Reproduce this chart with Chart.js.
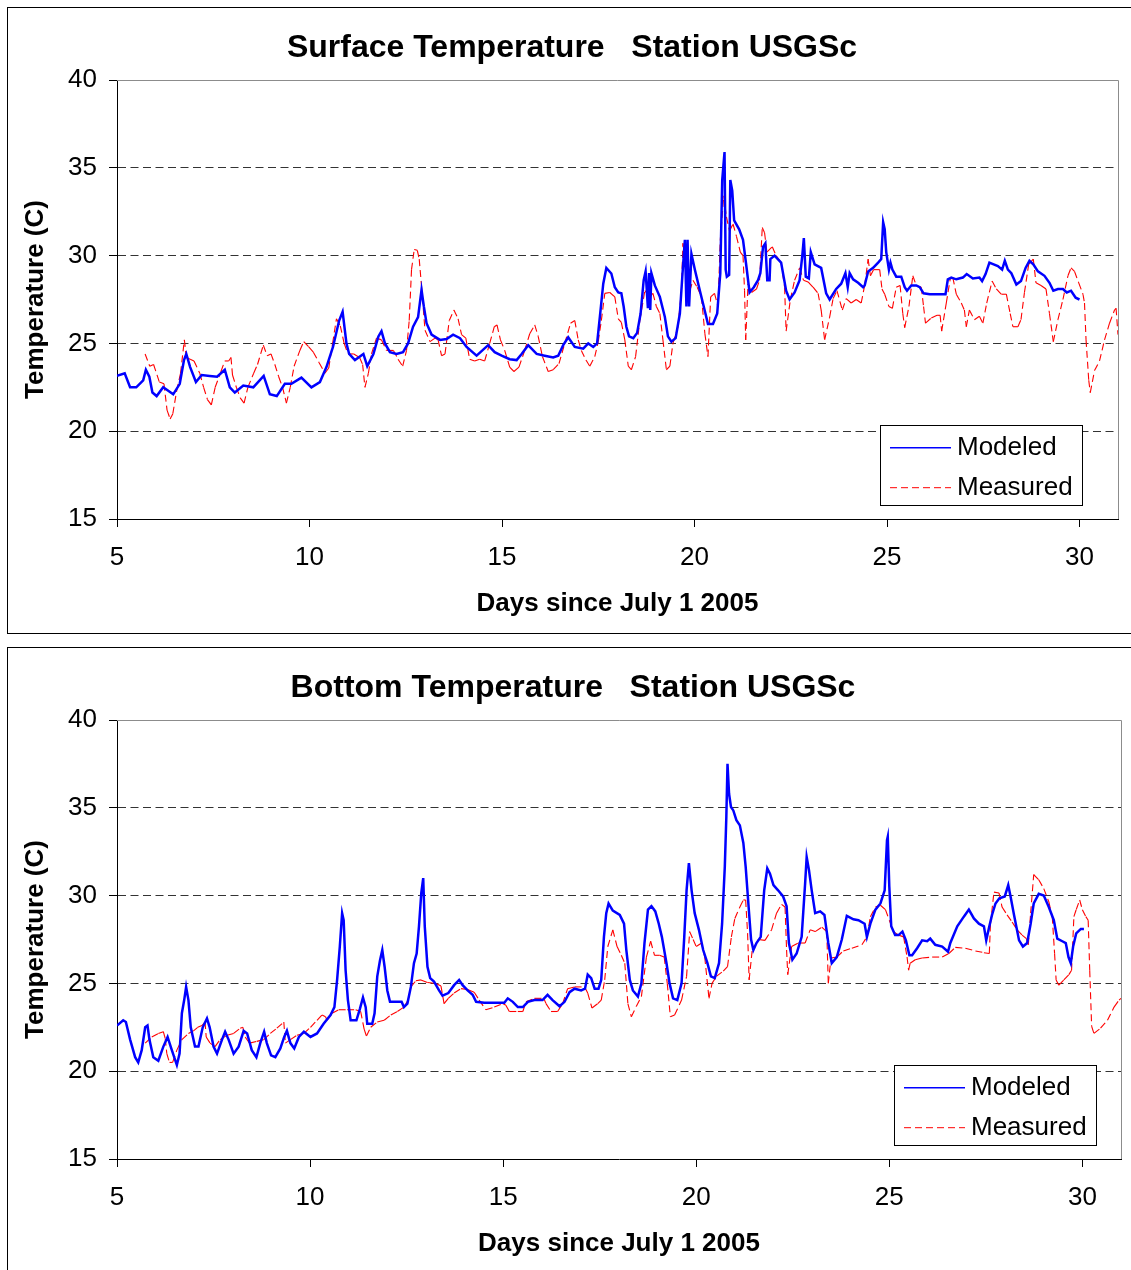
<!DOCTYPE html>
<html>
<head>
<meta charset="utf-8">
<title>Temperature - Station USGSc</title>
<script src="https://cdn.jsdelivr.net/npm/chart.js@4.4.1/dist/chart.umd.min.js"></script>
<style>
  html, body { margin: 0; padding: 0; background: #fff; overflow: hidden; }
  .panel { position: absolute; left: 7px; width: 1200px; border: 1px solid #000; box-sizing: border-box; background: #fff; }
  .panel canvas { position: absolute; left: 0; top: 0; }
</style>
</head>
<body>
<div class="panel" style="top:7px; height:627px;"><canvas id="surfaceChart" width="1123" height="625"></canvas></div>
<div class="panel" style="top:647px; height:700px;"><canvas id="bottomChart" width="1123" height="625"></canvas></div>
<script>
// days since July 1 2005 / temperature (C)
const surfaceModeledDay = [5.0, 5.2, 5.34, 5.5, 5.68, 5.75, 5.84, 5.92, 6.03, 6.2, 6.46, 6.63, 6.74, 6.8, 6.9, 7.05, 7.2, 7.41, 7.6, 7.8, 7.93, 8.06, 8.28, 8.54, 8.81, 8.97, 9.15, 9.36, 9.53, 9.79, 10.05, 10.27, 10.44, 10.61, 10.77, 10.86, 10.96, 11.03, 11.18, 11.4, 11.5, 11.66, 11.79, 11.87, 11.96, 12.09, 12.26, 12.43, 12.56, 12.69, 12.82, 12.91, 12.97, 13.04, 13.17, 13.39, 13.56, 13.73, 13.91, 14.08, 14.34, 14.64, 14.81, 14.99, 15.2, 15.38, 15.51, 15.68, 15.9, 16.11, 16.33, 16.46, 16.59, 16.72, 16.89, 17.11, 17.24, 17.37, 17.47, 17.56, 17.63, 17.71, 17.84, 17.93, 18.02, 18.1, 18.16, 18.23, 18.3, 18.41, 18.51, 18.6, 18.68, 18.73, 18.79, 18.82, 18.85, 18.88, 18.97, 19.1, 19.23, 19.31, 19.4, 19.51, 19.62, 19.7, 19.75, 19.79, 19.82, 19.86, 19.92, 20.01, 20.14, 20.24, 20.35, 20.48, 20.59, 20.67, 20.72, 20.78, 20.81, 20.84, 20.9, 20.93, 20.98, 21.03, 21.16, 21.26, 21.35, 21.43, 21.54, 21.65, 21.71, 21.78, 21.84, 21.89, 21.95, 21.97, 22.08, 22.25, 22.38, 22.47, 22.6, 22.73, 22.8, 22.84, 22.89, 22.97, 23.02, 23.12, 23.29, 23.42, 23.51, 23.68, 23.81, 23.92, 23.98, 24.03, 24.12, 24.25, 24.38, 24.42, 24.51, 24.64, 24.77, 24.85, 24.9, 24.94, 24.98, 25.05, 25.09, 25.14, 25.24, 25.37, 25.46, 25.52, 25.63, 25.76, 25.85, 25.95, 26.11, 26.28, 26.52, 26.58, 26.67, 26.8, 26.97, 27.07, 27.23, 27.4, 27.47, 27.56, 27.66, 27.77, 27.88, 27.99, 28.06, 28.14, 28.23, 28.36, 28.48, 28.6, 28.7, 28.8, 28.92, 29.09, 29.22, 29.32, 29.44, 29.57, 29.67, 29.78, 29.9, 30.0];
const surfaceModeledTemp = [23.15, 23.3, 22.5, 22.5, 22.9, 23.5, 23.1, 22.2, 22.0, 22.5, 22.1, 22.7, 24.05, 24.4, 23.65, 22.8, 23.2, 23.15, 23.1, 23.5, 22.5, 22.2, 22.6, 22.5, 23.15, 22.1, 22.0, 22.7, 22.7, 23.05, 22.5, 22.8, 23.65, 24.8, 26.3, 26.8, 25.0, 24.4, 24.05, 24.4, 23.7, 24.4, 25.4, 25.7, 25.0, 24.5, 24.4, 24.5, 25.0, 25.95, 26.5, 28.05, 27.1, 26.15, 25.5, 25.2, 25.25, 25.5, 25.3, 24.8, 24.3, 24.9, 24.5, 24.3, 24.1, 24.05, 24.4, 24.9, 24.4, 24.3, 24.2, 24.3, 24.9, 25.35, 24.8, 24.7, 25.0, 24.8, 25.0, 26.9, 28.4, 29.3, 28.98, 28.2, 27.9, 27.85, 27.1, 25.95, 25.4, 25.3, 25.6, 26.7, 28.6, 29.1, 27.0, 29.0, 26.9, 29.0, 28.3, 27.65, 26.5, 25.4, 25.1, 25.3, 26.7, 29.35, 30.9, 27.1, 30.9, 27.1, 30.1, 29.2, 28.0, 27.1, 26.1, 26.1, 26.7, 29.0, 34.3, 35.9, 29.2, 28.8, 28.9, 34.3, 33.7, 32.0, 31.5, 30.9, 29.35, 27.9, 28.2, 28.6, 29.0, 30.5, 30.7, 28.6, 28.6, 29.8, 30.0, 29.6, 28.0, 27.5, 27.9, 28.6, 30.0, 31.0, 28.8, 28.7, 30.2, 29.5, 29.3, 27.85, 27.5, 28.1, 28.4, 29.0, 28.2, 29.0, 28.65, 28.45, 28.2, 28.3, 29.1, 29.3, 29.6, 29.8, 31.9, 31.5, 30.2, 29.2, 29.6, 29.2, 28.8, 28.8, 28.2, 28.0, 28.3, 28.3, 28.2, 27.85, 27.8, 27.8, 27.8, 28.65, 28.75, 28.65, 28.75, 28.95, 28.7, 28.75, 28.55, 28.95, 29.6, 29.5, 29.4, 29.2, 29.7, 29.2, 29.0, 28.35, 28.55, 29.3, 29.7, 29.5, 29.1, 28.85, 28.45, 28.0, 28.1, 28.1, 27.9, 28.0, 27.6, 27.5];

const surfaceMeasuredDay = [5.73, 5.85, 5.95, 6.1, 6.22, 6.3, 6.38, 6.45, 6.55, 6.65, 6.75, 6.8, 6.9, 7.0, 7.15, 7.25, 7.35, 7.45, 7.55, 7.7, 7.8, 7.9, 7.96, 8.0, 8.1, 8.2, 8.3, 8.4, 8.55, 8.65, 8.8, 8.9, 9.0, 9.1, 9.2, 9.3, 9.4, 9.5, 9.6, 9.75, 9.85, 9.98, 10.1, 10.25, 10.4, 10.5, 10.6, 10.7, 10.8, 10.9, 11.0, 11.15, 11.3, 11.38, 11.44, 11.53, 11.61, 11.74, 11.87, 12.0, 12.18, 12.3, 12.42, 12.52, 12.59, 12.65, 12.72, 12.8, 12.85, 12.91, 13.0, 13.13, 13.26, 13.34, 13.43, 13.52, 13.63, 13.75, 13.86, 13.95, 14.06, 14.16, 14.29, 14.42, 14.55, 14.68, 14.8, 14.87, 14.96, 15.07, 15.2, 15.31, 15.44, 15.59, 15.72, 15.85, 15.94, 16.05, 16.2, 16.33, 16.48, 16.63, 16.78, 16.89, 16.98, 17.06, 17.18, 17.28, 17.41, 17.5, 17.58, 17.67, 17.8, 17.93, 18.02, 18.1, 18.19, 18.28, 18.36, 18.47, 18.58, 18.71, 18.84, 18.92, 19.01, 19.1, 19.18, 19.27, 19.36, 19.44, 19.57, 19.66, 19.7, 19.77, 19.88, 19.96, 20.07, 20.18, 20.27, 20.35, 20.42, 20.52, 20.61, 20.67, 20.76, 20.83, 20.91, 21.0, 21.09, 21.19, 21.26, 21.3, 21.33, 21.39, 21.48, 21.61, 21.69, 21.76, 21.82, 21.88, 22.02, 22.12, 22.25, 22.34, 22.38, 22.49, 22.6, 22.73, 22.83, 22.95, 23.08, 23.21, 23.29, 23.38, 23.51, 23.6, 23.7, 23.84, 23.94, 24.07, 24.2, 24.33, 24.42, 24.51, 24.57, 24.65, 24.81, 24.87, 24.94, 25.05, 25.14, 25.24, 25.34, 25.41, 25.46, 25.57, 25.67, 25.76, 25.89, 25.95, 26.0, 26.15, 26.3, 26.38, 26.42, 26.54, 26.64, 26.71, 26.8, 26.93, 27.01, 27.06, 27.14, 27.27, 27.4, 27.49, 27.59, 27.73, 27.84, 27.97, 28.1, 28.2, 28.27, 28.4, 28.48, 28.57, 28.68, 28.8, 28.87, 29.0, 29.13, 29.22, 29.32, 29.44, 29.57, 29.7, 29.78, 29.87, 29.98, 30.09, 30.13, 30.17, 30.24, 30.28, 30.39, 30.52, 30.65, 30.78, 30.91, 30.95, 31.0];
const surfaceMeasuredTemp = [24.4, 23.7, 23.8, 22.8, 22.7, 21.2, 20.7, 21.0, 22.3, 23.3, 25.2, 24.2, 24.1, 24.0, 23.3, 22.5, 21.8, 21.5, 22.5, 23.4, 24.0, 24.0, 24.2, 23.2, 22.5, 21.9, 21.6, 22.5, 23.3, 23.8, 24.9, 24.3, 24.4, 23.8, 23.1, 22.5, 21.6, 22.5, 23.7, 24.6, 25.1, 24.8, 24.5, 23.9, 23.3, 23.6, 25.0, 26.4, 26.0, 25.0, 24.4, 24.4, 24.2, 23.8, 22.5, 23.3, 24.4, 25.3, 25.2, 24.6, 24.6, 24.1, 23.7, 24.6, 26.3, 29.2, 30.35, 30.3, 29.8, 28.25, 25.75, 25.1, 25.3, 25.2, 24.3, 24.4, 26.3, 26.9, 26.4, 25.5, 25.3, 24.1, 24.0, 24.1, 24.0, 25.0, 25.95, 26.05, 25.2, 24.6, 23.65, 23.4, 23.65, 24.6, 25.55, 26.05, 25.4, 24.25, 23.4, 23.5, 23.85, 25.0, 26.15, 26.3, 25.2, 24.6, 24.05, 23.7, 24.25, 25.1, 26.3, 27.85, 27.9, 27.65, 26.4, 26.2, 25.2, 23.7, 23.5, 24.25, 26.3, 28.0, 27.65, 27.85, 27.1, 26.7, 25.2, 23.5, 23.7, 25.0, 25.95, 28.0, 30.7, 29.4, 28.0, 28.6, 28.2, 27.65, 25.55, 24.25, 27.65, 27.85, 27.1, 30.9, 33.4, 32.2, 31.4, 31.8, 31.1, 30.2, 30.0, 28.0, 25.2, 28.4, 27.9, 28.1, 28.6, 31.6, 31.3, 30.2, 30.5, 30.0, 29.6, 28.2, 25.7, 27.5, 28.6, 29.3, 28.6, 28.5, 28.2, 27.85, 26.9, 25.2, 26.5, 27.55, 28.0, 26.9, 27.55, 27.3, 27.5, 27.3, 28.3, 29.8, 28.85, 29.2, 29.2, 28.1, 27.8, 27.1, 27.0, 28.2, 28.3, 26.7, 25.9, 27.1, 28.85, 28.3, 28.2, 27.1, 26.15, 26.45, 26.6, 26.6, 25.7, 27.3, 28.65, 28.75, 27.8, 27.3, 26.9, 25.95, 26.9, 26.35, 26.55, 26.15, 27.3, 28.55, 28.1, 27.8, 27.8, 26.7, 25.95, 25.95, 26.35, 27.9, 29.5, 29.8, 28.45, 28.3, 28.1, 26.7, 25.1, 26.35, 27.5, 28.85, 29.3, 29.1, 28.45, 27.8, 27.3, 25.2, 22.9, 22.2, 23.45, 24.0, 25.2, 26.15, 26.9, 27.0, 25.5];

const bottomModeledDay = [5.0, 5.16, 5.23, 5.34, 5.47, 5.55, 5.64, 5.73, 5.79, 5.84, 5.94, 6.07, 6.2, 6.31, 6.42, 6.55, 6.62, 6.68, 6.74, 6.79, 6.85, 6.91, 7.02, 7.11, 7.22, 7.33, 7.4, 7.5, 7.59, 7.72, 7.8, 7.89, 8.02, 8.15, 8.28, 8.37, 8.49, 8.61, 8.71, 8.81, 8.88, 8.99, 9.1, 9.23, 9.33, 9.4, 9.49, 9.59, 9.71, 9.84, 10.01, 10.18, 10.35, 10.53, 10.63, 10.7, 10.77, 10.83, 10.87, 10.92, 10.98, 11.05, 11.2, 11.29, 11.37, 11.44, 11.48, 11.61, 11.67, 11.74, 11.81, 11.87, 11.93, 12.0, 12.07, 12.26, 12.37, 12.43, 12.52, 12.61, 12.69, 12.76, 12.82, 12.88, 12.93, 12.97, 13.04, 13.11, 13.21, 13.34, 13.43, 13.58, 13.73, 13.86, 13.95, 14.08, 14.21, 14.3, 14.51, 14.77, 15.03, 15.12, 15.25, 15.38, 15.51, 15.64, 15.81, 16.02, 16.15, 16.28, 16.46, 16.59, 16.72, 16.85, 17.02, 17.12, 17.19, 17.28, 17.37, 17.47, 17.54, 17.61, 17.67, 17.73, 17.84, 18.02, 18.13, 18.19, 18.28, 18.36, 18.49, 18.58, 18.66, 18.75, 18.84, 18.94, 19.03, 19.11, 19.23, 19.31, 19.4, 19.51, 19.62, 19.69, 19.75, 19.81, 19.88, 19.96, 20.07, 20.18, 20.29, 20.38, 20.48, 20.59, 20.67, 20.74, 20.78, 20.81, 20.85, 20.9, 20.96, 21.04, 21.13, 21.22, 21.28, 21.35, 21.42, 21.48, 21.56, 21.67, 21.76, 21.84, 21.91, 22.0, 22.12, 22.25, 22.34, 22.4, 22.49, 22.6, 22.73, 22.82, 22.86, 22.92, 22.99, 23.08, 23.21, 23.32, 23.42, 23.51, 23.64, 23.77, 23.9, 24.07, 24.2, 24.36, 24.42, 24.51, 24.64, 24.77, 24.88, 24.94, 24.96, 25.0, 25.05, 25.15, 25.24, 25.34, 25.43, 25.52, 25.59, 25.72, 25.85, 25.98, 26.06, 26.19, 26.37, 26.52, 26.58, 26.76, 26.93, 27.06, 27.19, 27.32, 27.45, 27.51, 27.58, 27.66, 27.75, 27.85, 27.99, 28.08, 28.14, 28.23, 28.36, 28.46, 28.57, 28.66, 28.74, 28.87, 29.0, 29.13, 29.26, 29.35, 29.48, 29.57, 29.64, 29.7, 29.76, 29.84, 29.96, 30.04];
const bottomModeledTemp = [22.6, 22.9, 22.8, 21.8, 20.8, 20.5, 21.2, 22.5, 22.6, 21.8, 20.8, 20.6, 21.4, 21.95, 21.2, 20.35, 21.0, 23.3, 24.05, 24.8, 24.05, 22.5, 21.4, 21.4, 22.5, 23.0, 22.5, 21.4, 21.0, 21.8, 22.25, 21.8, 21.0, 21.4, 22.3, 22.15, 21.2, 20.8, 21.6, 22.25, 21.6, 20.9, 20.8, 21.3, 21.95, 22.3, 21.6, 21.3, 21.95, 22.25, 21.95, 22.15, 22.7, 23.2, 23.65, 25.2, 27.1, 29.0, 28.6, 25.75, 24.05, 22.9, 22.9, 23.55, 24.2, 23.65, 22.7, 22.7, 23.3, 25.4, 26.3, 26.9, 25.95, 24.6, 23.95, 23.95, 23.95, 23.65, 23.85, 24.8, 26.15, 26.7, 28.25, 30.15, 31.0, 28.25, 25.95, 25.3, 25.1, 24.6, 24.3, 24.45, 24.9, 25.2, 24.9, 24.6, 24.35, 23.95, 23.9, 23.9, 23.9, 24.15, 23.95, 23.65, 23.65, 23.95, 24.05, 24.05, 24.35, 24.05, 23.7, 23.95, 24.5, 24.7, 24.6, 24.7, 25.5, 25.3, 24.7, 24.7, 25.2, 27.65, 29.0, 29.55, 29.15, 28.9, 28.4, 26.9, 25.2, 24.6, 24.25, 25.0, 27.3, 29.2, 29.4, 29.1, 28.4, 27.65, 26.15, 25.0, 24.15, 24.05, 25.0, 27.65, 30.3, 31.85, 30.3, 29.0, 28.05, 26.9, 26.15, 25.4, 25.3, 26.15, 28.4, 31.65, 34.5, 37.5, 35.8, 35.05, 34.85, 34.3, 34.0, 33.0, 31.65, 29.55, 27.5, 26.9, 27.3, 27.65, 30.3, 31.55, 31.25, 30.6, 30.3, 29.95, 29.4, 27.3, 26.35, 26.7, 27.65, 30.7, 32.2, 31.45, 30.3, 29.0, 29.1, 28.9, 27.3, 26.15, 26.5, 27.5, 28.85, 28.65, 28.6, 28.4, 27.65, 28.4, 29.2, 29.55, 30.3, 33.15, 33.35, 30.5, 28.25, 27.75, 27.75, 27.95, 27.45, 26.6, 26.6, 27.0, 27.45, 27.4, 27.55, 27.2, 27.1, 26.8, 27.3, 28.25, 28.8, 29.2, 28.7, 28.4, 28.25, 27.45, 28.15, 28.9, 29.55, 29.85, 29.95, 30.6, 29.95, 28.9, 27.45, 27.1, 27.3, 28.4, 29.55, 30.1, 30.0, 29.35, 28.6, 27.55, 27.4, 27.3, 26.5, 26.15, 27.1, 27.85, 28.1, 28.1];

const bottomMeasuredDay = [5.73, 5.9, 6.07, 6.2, 6.25, 6.29, 6.36, 6.44, 6.55, 6.68, 6.85, 6.98, 7.09, 7.2, 7.28, 7.31, 7.41, 7.54, 7.67, 7.85, 8.02, 8.19, 8.26, 8.32, 8.43, 8.62, 8.8, 8.97, 9.14, 9.32, 9.36, 9.49, 9.66, 9.84, 10.01, 10.18, 10.31, 10.4, 10.44, 10.57, 10.74, 10.96, 11.18, 11.31, 11.4, 11.46, 11.57, 11.74, 11.92, 12.09, 12.26, 12.43, 12.54, 12.61, 12.74, 12.87, 13.04, 13.26, 13.39, 13.47, 13.58, 13.73, 13.91, 14.08, 14.25, 14.38, 14.55, 14.77, 14.99, 15.07, 15.16, 15.38, 15.51, 15.59, 15.81, 16.05, 16.11, 16.24, 16.41, 16.54, 16.67, 16.85, 17.11, 17.19, 17.3, 17.45, 17.54, 17.63, 17.71, 17.84, 17.95, 18.06, 18.15, 18.23, 18.32, 18.45, 18.58, 18.71, 18.82, 18.92, 19.05, 19.17, 19.25, 19.33, 19.44, 19.62, 19.75, 19.83, 19.92, 20.0, 20.14, 20.22, 20.33, 20.41, 20.52, 20.7, 20.81, 20.91, 21.0, 21.13, 21.22, 21.28, 21.33, 21.37, 21.45, 21.61, 21.78, 21.95, 22.08, 22.21, 22.3, 22.34, 22.37, 22.47, 22.64, 22.82, 22.95, 23.08, 23.25, 23.38, 23.42, 23.49, 23.64, 23.81, 24.03, 24.29, 24.42, 24.51, 24.64, 24.77, 24.9, 25.0, 25.11, 25.24, 25.37, 25.46, 25.5, 25.54, 25.67, 25.85, 26.11, 26.37, 26.54, 26.71, 26.97, 27.23, 27.45, 27.59, 27.62, 27.71, 27.84, 27.92, 28.05, 28.18, 28.31, 28.44, 28.55, 28.6, 28.66, 28.74, 28.87, 29.0, 29.13, 29.22, 29.28, 29.32, 29.39, 29.52, 29.65, 29.72, 29.78, 29.84, 29.93, 30.0, 30.09, 30.15, 30.19, 30.24, 30.3, 30.47, 30.65, 30.82, 30.95, 31.0];
const bottomMeasuredTemp = [21.6, 21.95, 22.15, 22.25, 21.85, 21.0, 20.5, 20.5, 21.2, 21.8, 22.15, 22.3, 22.5, 22.6, 22.8, 21.95, 21.6, 21.4, 21.8, 22.05, 22.15, 22.45, 22.5, 21.95, 21.6, 21.7, 21.8, 22.15, 22.45, 22.8, 21.6, 21.8, 22.05, 22.15, 22.5, 22.9, 23.2, 23.1, 22.9, 23.3, 23.5, 23.5, 23.5, 23.4, 22.4, 22.0, 22.5, 22.8, 22.9, 23.2, 23.4, 23.65, 24.05, 24.8, 25.15, 25.2, 25.05, 25.0, 24.85, 23.85, 24.15, 24.45, 24.7, 24.65, 24.5, 24.05, 23.5, 23.65, 23.85, 23.75, 23.4, 23.4, 23.4, 23.95, 24.15, 24.15, 23.85, 23.4, 23.4, 23.85, 24.7, 24.8, 24.8, 24.45, 23.6, 23.85, 24.05, 25.2, 27.1, 28.05, 27.1, 26.6, 26.15, 23.85, 23.1, 23.7, 24.25, 26.5, 27.4, 26.6, 26.6, 26.5, 25.0, 23.1, 23.2, 24.05, 25.4, 27.95, 27.5, 27.1, 27.3, 26.5, 24.15, 25.0, 25.4, 25.7, 25.95, 27.65, 28.7, 29.35, 29.75, 29.75, 27.85, 25.2, 26.9, 27.5, 27.45, 28.05, 29.0, 29.5, 29.35, 26.9, 25.5, 27.1, 27.3, 27.3, 28.05, 27.95, 28.2, 27.95, 25.0, 26.45, 26.5, 26.85, 27.0, 27.2, 27.65, 28.8, 29.35, 29.45, 29.2, 28.6, 27.95, 27.75, 27.65, 26.5, 25.75, 26.15, 26.35, 26.45, 26.5, 26.5, 26.7, 27.05, 27.0, 26.85, 26.75, 26.7, 28.4, 30.2, 30.15, 29.35, 28.9, 28.5, 28.05, 27.75, 27.55, 27.2, 29.0, 31.2, 30.9, 30.4, 29.65, 28.8, 26.7, 25.2, 24.9, 25.2, 25.5, 25.75, 28.8, 29.2, 29.75, 29.2, 28.8, 28.6, 25.75, 22.55, 22.15, 22.45, 22.9, 23.65, 24.05, 24.15];

const dayTicks = [5, 10, 15, 20, 25, 30];
const tempTicks = [15, 20, 25, 30, 35, 40];

const FONT = "'Liberation Sans', Arial, Helvetica, sans-serif";
Chart.defaults.font.family = FONT;
Chart.defaults.color = '#000';

function toPoints(days, temps) {
  return days.map((d, i) => ({ x: d, y: temps[i] }));
}

// gray frame on the top and right of the plot area
const plotFrame = {
  id: 'plotFrame',
  beforeDatasetsDraw(chart) {
    const { ctx, chartArea: a } = chart;
    ctx.save();
    ctx.strokeStyle = '#8c8c8c';
    ctx.lineWidth = 1;
    ctx.beginPath();
    ctx.moveTo(a.left, Math.round(a.top) + 0.5);
    ctx.lineTo(Math.round(a.right) + 0.5, Math.round(a.top) + 0.5);
    ctx.lineTo(Math.round(a.right) + 0.5, a.bottom);
    ctx.stroke();
    ctx.restore();
  }
};

// boxed legend sitting inside the plot area
const boxLegend = {
  id: 'boxLegend',
  afterDraw(chart, args, opts) {
    const { ctx } = chart;
    const x = opts.x, y = opts.y, w = 202, h = 80;
    ctx.save();
    ctx.fillStyle = '#fff';
    ctx.fillRect(x, y, w, h);
    ctx.strokeStyle = '#000';
    ctx.lineWidth = 1;
    ctx.strokeRect(x + 0.5, y + 0.5, w, h);
    chart.data.datasets.forEach((ds, i) => {
      const ly = y + 22.7 + i * 40;
      ctx.strokeStyle = ds.borderColor;
      ctx.lineWidth = i === 0 ? 1.5 : 1;
      ctx.setLineDash(ds.borderDash || []);
      ctx.beginPath();
      ctx.moveTo(x + 10, ly);
      ctx.lineTo(x + 71, ly);
      ctx.stroke();
      ctx.setLineDash([]);
      ctx.fillStyle = '#000';
      ctx.font = '26px ' + FONT;
      ctx.textAlign = 'left';
      ctx.textBaseline = 'middle';
      ctx.fillText(ds.label, x + 77, ly + 0.5);
    });
    ctx.restore();
  }
};

function makeChart(id, title, modeled, measured, frame) {
  return new Chart(document.getElementById(id), {
    type: 'line',
    data: {
      datasets: [
        {
          label: 'Modeled',
          data: modeled,
          borderColor: '#0000ff',
          borderWidth: 2.5,
          pointRadius: 0,
          tension: 0
        },
        {
          label: 'Measured',
          data: measured,
          borderColor: '#ff0000',
          borderWidth: 1.1,
          borderDash: [7, 4],
          pointRadius: 0,
          tension: 0,
          // restart the dash pattern on every segment
          segment: {
            borderDashOffset: (ctx) => (ctx.p0DataIndex % 2 ? 0.01 : 0)
          }
        }
      ]
    },
    options: {
      responsive: false,
      animation: false,
      events: [],
      layout: { padding: { left: frame.padLeft, right: frame.padRight, top: 0, bottom: 0 } },
      plugins: {
        legend: { display: false },
        tooltip: { enabled: false },
        title: {
          display: true,
          text: title,
          color: '#000',
          font: { size: 32, weight: 'bold' },
          padding: { top: 21, bottom: 12.6 }
        },
        boxLegend: { x: frame.legendX, y: frame.legendY }
      },
      scales: {
        x: {
          type: 'linear',
          min: 5,
          max: 31,
          afterBuildTicks: (scale) => {
            scale.ticks = dayTicks.map((v) => ({ value: v }));
          },
          ticks: { font: { size: 26 }, color: '#000', padding: 15, maxRotation: 0 },
          grid: { drawOnChartArea: false, tickLength: 8, tickColor: '#000' },
          border: { color: '#000', width: 1 },
          title: {
            display: true,
            text: 'Days since July 1 2005',
            color: '#000',
            font: { size: 26, weight: 'bold' },
            padding: { top: 0, bottom: 13.4 }
          },
          afterFit: (scale) => { scale.height = 114; }
        },
        y: {
          min: 15,
          max: 40,
          afterBuildTicks: (scale) => {
            scale.ticks = tempTicks.map((v) => ({ value: v }));
          },
          ticks: { font: { size: 26 }, color: '#000', padding: 12 },
          grid: {
            color: (ctx) => (ctx.tick && (ctx.tick.value === 40 || ctx.tick.value === 15) ? 'rgba(0,0,0,0)' : '#333'),
            tickLength: 8,
            tickColor: '#000'
          },
          border: { color: '#000', width: 1, dash: [8, 4.5] },
          title: {
            display: true,
            text: 'Temperature (C)',
            color: '#000',
            font: { size: 26, weight: 'bold' },
            padding: { top: 10 - 15.6 - frame.padLeft + 18, bottom: 0 }
          },
          afterFit: (scale) => { scale.width = 109 - frame.padLeft; }
        }
      }
    },
    plugins: [plotFrame, boxLegend]
  });
}

makeChart('surfaceChart', 'Surface Temperature   Station USGSc',
  toPoints(surfaceModeledDay, surfaceModeledTemp),
  toPoints(surfaceMeasuredDay, surfaceMeasuredTemp),
  { padLeft: 18, padRight: 13, legendX: 872, legendY: 417 });

makeChart('bottomChart', 'Bottom Temperature   Station USGSc',
  toPoints(bottomModeledDay, bottomModeledTemp),
  toPoints(bottomMeasuredDay, bottomMeasuredTemp),
  { padLeft: 17, padRight: 10, legendX: 886, legendY: 417 });
</script>
</body>
</html>
